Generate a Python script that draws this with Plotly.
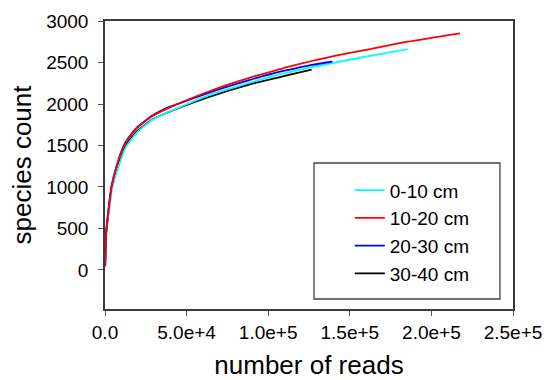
import plotly.graph_objects as go

# ---- data ----
names = ["0-10 cm", "10-20 cm", "20-30 cm", "30-40 cm"]
colors = ["#00FFFF", "#FF0000", "#0000FF", "#000000"]

reads_0_10 = [100, 600, 1000, 2700, 4300, 7800, 12800, 20000, 30000, 39800, 64300, 88800, 107200, 113300, 126600, 139300, 160000, 185500]
count_0_10 = [40, 390, 490, 750, 980, 1220, 1480, 1665, 1822, 1910, 2109, 2257, 2360, 2385, 2445, 2492, 2572, 2661]

reads_10_20 = [100, 600, 1000, 2500, 4000, 7300, 12000, 19000, 29000, 39800, 64300, 88800, 107200, 113300, 126600, 139300, 160000, 185500, 217500]
count_10_20 = [50, 420, 515, 785, 1005, 1260, 1512, 1700, 1855, 1960, 2157, 2318, 2420, 2453, 2518, 2575, 2653, 2751, 2852]

reads_20_30 = [100, 600, 1000, 2500, 4000, 7300, 12000, 19000, 29000, 39800, 46000, 64300, 88800, 107200, 113300, 126600, 139300]
count_20_30 = [50, 420, 520, 790, 1010, 1265, 1520, 1705, 1860, 1968, 2012, 2141, 2290, 2390, 2415, 2470, 2512]

reads_30_40 = [100, 600, 1000, 2600, 4100, 7600, 12500, 19500, 30000, 39800, 46000, 64300, 88800, 107200, 113300, 126600]
count_30_40 = [40, 400, 500, 760, 990, 1230, 1490, 1670, 1825, 1908, 1958, 2089, 2237, 2325, 2355, 2414]

x_tickvals = [0, 50000, 100000, 150000, 200000, 250000]
x_ticktext = ["0.0", "5.0e+4", "1.0e+5", "1.5e+5", "2.0e+5", "2.5e+5"]
y_tickvals = [0, 500, 1000, 1500, 2000, 2500, 3000]

series = [
    (reads_0_10, count_0_10),
    (reads_10_20, count_10_20),
    (reads_20_30, count_20_30),
    (reads_30_40, count_30_40),
]

FONT = "Arial, 'Liberation Sans', sans-serif"

fig = go.Figure()
# draw in an order so red/blue sit on top like the reference
order = [3, 0, 2, 1]
for i in order:
    xs, ys = series[i]
    fig.add_trace(go.Scatter(
        x=xs, y=ys, mode="lines", name=names[i],
        line=dict(color=colors[i], width=1.8, shape="spline", smoothing=0.6),
        legendrank=i + 1,
    ))

W, H = 549, 380
L, R, T, B = 105, 36, 21, 71

fig.update_layout(
    width=W, height=H,
    margin=dict(l=L, r=R, t=T, b=B, autoexpand=False),
    paper_bgcolor="white", plot_bgcolor="white",
    font=dict(family=FONT, size=20, color="black"),
    showlegend=True,
    legend=dict(
        x=0.600, y=0.478, xanchor="left", yanchor="top",
        bgcolor="rgba(0,0,0,0)", borderwidth=0,
        font=dict(family=FONT, size=19, color="black"),
        tracegroupgap=0,
    ),
    xaxis=dict(
        range=[0, 250000], tickvals=x_tickvals, ticktext=x_ticktext,
        showgrid=False, zeroline=False,
        showline=True, linecolor="#3a3a3a", linewidth=1.5, mirror=True,
        ticks="outside", ticklen=5, tickcolor="#555555", tickwidth=1,
        tickfont=dict(family=FONT, size=19, color="black"),
        ticklabelstandoff=0,
        title=dict(text="number of reads", font=dict(family=FONT, size=26, color="black"), standoff=14),
    ),
    yaxis=dict(
        range=[-470, 3000], tickvals=y_tickvals,
        showgrid=False, zeroline=False,
        showline=True, linecolor="#3a3a3a", linewidth=1.5, mirror=True,
        ticks="outside", ticklen=5, tickcolor="#555555", tickwidth=1,
        tickfont=dict(family=FONT, size=19, color="black"),
        ticklabelstandoff=6,
        title=dict(text="species count", font=dict(family=FONT, size=26, color="black"), standoff=7),
    ),
    shapes=[dict(
        type="rect", xref="paper", yref="paper",
        x0=0.5123, x1=0.968, y0=0.0347, y1=0.507,
        line=dict(color="#444444", width=1.3), fillcolor="rgba(0,0,0,0)", layer="above",
    )],
)

fig.write_html(
    "out.html",
    config={"displayModeBar": False},
    post_script="document.body.style.margin='0';document.body.style.overflow='hidden';",
)
